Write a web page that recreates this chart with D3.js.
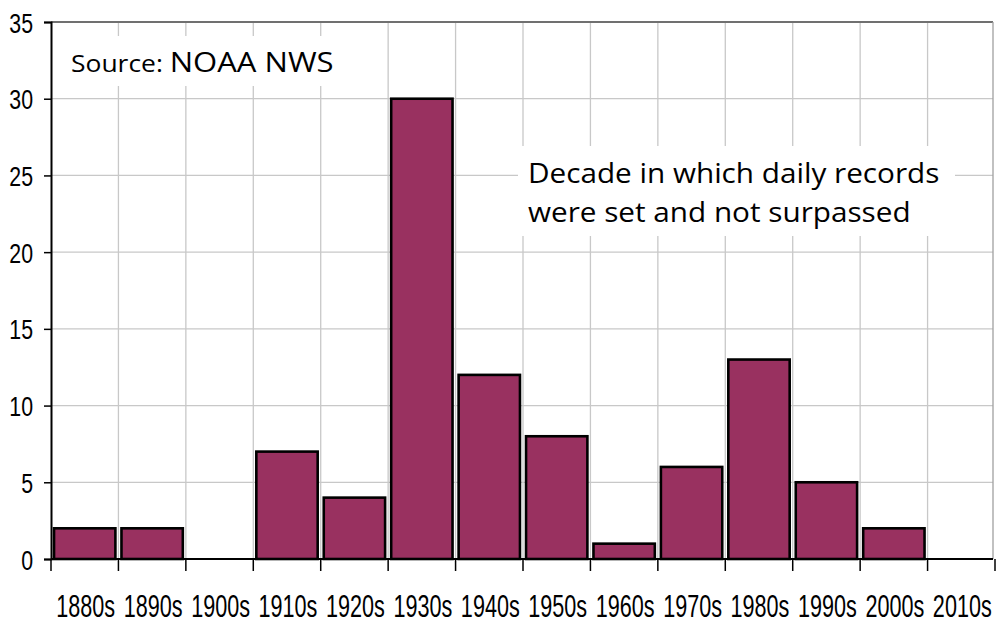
<!DOCTYPE html>
<html>
<head>
<meta charset="utf-8">
<script src="https://cdn.jsdelivr.net/npm/d3@7"></script>
<style>
  html, body { margin: 0; padding: 0; background: #fff; }
  svg { display: block; }
  .ax text { font-family: "Liberation Sans", Arial, sans-serif; fill: #000; }
  .note { font-family: "Open Sans", "Noto Sans", sans-serif; fill: #000; }
</style>
</head>
<body>
<svg id="chart" width="996" height="625"></svg>
<script>
const categories = ["1880s","1890s","1900s","1910s","1920s","1930s","1940s","1950s","1960s","1970s","1980s","1990s","2000s","2010s"];
const values = [2, 2, 0, 7, 4, 30, 12, 8, 1, 6, 13, 5, 2, 0];
const yTicks = [0, 5, 10, 15, 20, 25, 30, 35];
const sourceLabel = "Source:";
const sourceName = "NOAA NWS";
const noteLines = ["Decade in which daily records", "were set and not surpassed"];

(function () {
const svg = d3.select("#chart");
const pLeft = 51, pRight = 995, pTop = 22, pBottom = 559;

const x = d3.scaleBand().domain(categories).range([pLeft, pRight]).paddingInner(0.09).paddingOuter(0.045);
const xEdge = d3.scaleLinear().domain([0, categories.length]).range([pLeft, pRight]);
const y = d3.scaleLinear().domain([0, 35]).range([pBottom, pTop]);

// gridlines
const grid = svg.append("g");
grid.selectAll("line.h").data(yTicks.filter(d => d > 0 && d < 35)).join("line")
  .attr("x1", pLeft).attr("x2", pRight - 2)
  .attr("y1", d => y(d)).attr("y2", d => y(d))
  .attr("stroke", "#c8c8c8").attr("stroke-width", 1.3);
grid.selectAll("line.v").data(d3.range(1, categories.length)).join("line")
  .attr("x1", d => xEdge(d)).attr("x2", d => xEdge(d))
  .attr("y1", pTop).attr("y2", pBottom)
  .attr("stroke", "#c8c8c8").attr("stroke-width", 1.3);

// top and right border
svg.append("line").attr("x1", pLeft).attr("x2", pRight - 2).attr("y1", pTop).attr("y2", pTop)
  .attr("stroke", "#707070").attr("stroke-width", 2);
svg.append("line").attr("x1", pRight - 2).attr("x2", pRight - 2).attr("y1", pTop).attr("y2", pBottom)
  .attr("stroke", "#a0a0a0").attr("stroke-width", 1.3);

// white boxes behind annotations
svg.append("rect").attr("x", 60).attr("y", 36).attr("width", 285).attr("height", 50).attr("fill", "#fff");
svg.append("rect").attr("x", 518).attr("y", 146).attr("width", 437).attr("height", 90).attr("fill", "#fff");

// bars
svg.append("g").selectAll("rect").data(values.map((v, i) => ({c: categories[i], v})).filter(d => d.v > 0)).join("rect")
  .attr("x", d => x(d.c))
  .attr("y", d => y(d.v))
  .attr("width", x.bandwidth())
  .attr("height", d => y(0) - y(d.v))
  .attr("fill", "#993160")
  .attr("stroke", "#000")
  .attr("stroke-width", 2.6);

// y axis
const yAxis = svg.append("g").attr("class", "ax").attr("transform", `translate(${pLeft},0)`)
  .call(d3.axisLeft(y).tickValues(yTicks).tickSize(7).tickPadding(10));
yAxis.select(".domain").attr("stroke", "#000").attr("stroke-width", 2);
yAxis.selectAll(".tick line").attr("stroke", "#000").attr("stroke-width", 1.5);
yAxis.selectAll(".tick text").attr("font-size", 26).attr("dy", "0.36em")
  .attr("x", 0).attr("transform", "translate(-18,0) scale(0.82,1.08)");

// x axis line + ticks at boundaries
const xAxisG = svg.append("g").attr("class", "ax");
xAxisG.append("line").attr("x1", pLeft).attr("x2", pRight - 2).attr("y1", pBottom).attr("y2", pBottom)
  .attr("stroke", "#000").attr("stroke-width", 2);
xAxisG.selectAll("line.t").data(d3.range(0, categories.length + 1)).join("line")
  .attr("x1", d => xEdge(d)).attr("x2", d => xEdge(d))
  .attr("y1", pBottom).attr("y2", pBottom + 12)
  .attr("stroke", "#000").attr("stroke-width", 1.5);
xAxisG.selectAll("text").data(categories).join("text")
  .attr("text-anchor", "middle")
  .attr("font-size", 27)
  .attr("transform", d => `translate(${x(d) + x.bandwidth() / 2 + 1},617) scale(0.8,1.15)`)
  .text(d => d);

// source text
const src = svg.append("text").attr("class", "note").attr("transform", "translate(71,72) scale(1.15,1)");
src.append("tspan").attr("font-size", 23).text(sourceLabel + " ");
src.append("tspan").attr("font-size", 27).text(sourceName);

// note text
svg.append("g").selectAll("text").data(noteLines).join("text")
  .attr("class", "note")
  .attr("transform", (d, i) => `translate(528,${183 + i * 39}) scale(1.1,1)`)
  .attr("font-size", 27)
  .text(d => d);
})();
</script>
</body>
</html>
